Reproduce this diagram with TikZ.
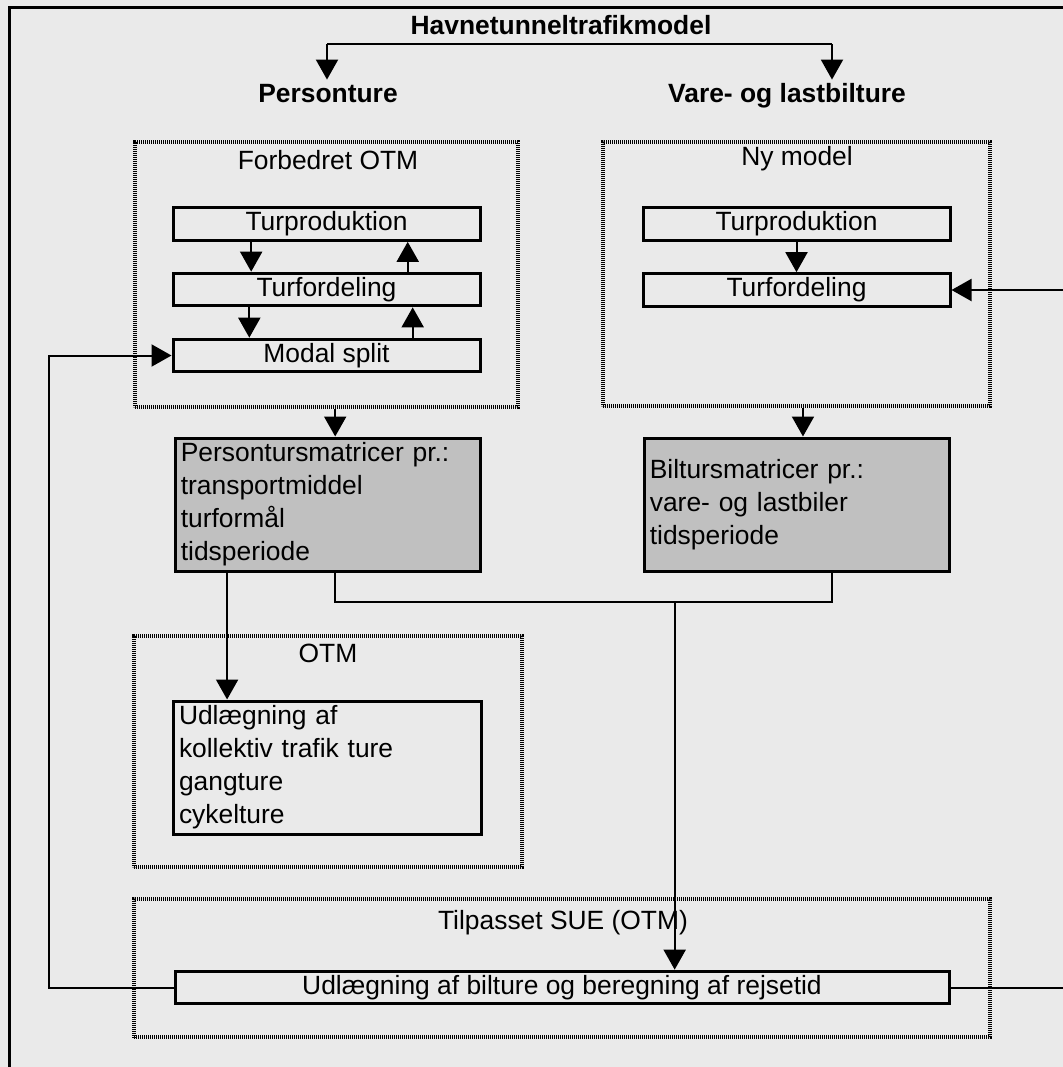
\documentclass[tikz,border=0pt]{standalone}
\usepackage{fontspec}
\setmainfont{Liberation Sans}
\usetikzlibrary{arrows.meta,calc}
\definecolor{bgcol}{RGB}{234,234,234}
\definecolor{boxgray}{RGB}{192,192,192}
\begin{document}
\begin{tikzpicture}[x=0.75pt,y=-0.75pt,
  every node/.style={font=\fontsize{19.8}{24.75}\selectfont, inner sep=0pt},
  boldlab/.style={font=\bfseries\fontsize{19.8}{24.75}\selectfont, inner sep=3pt},
  stepbox/.style={draw, line width=2.25pt, minimum width=230.25pt, minimum height=24.5pt},
  matbox/.style={draw, fill=boxgray, line width=2.25pt, minimum width=228.75pt, minimum height=99.75pt,
                 text width=220pt, align=left, inner xsep=4pt},
  groupbox/.style={draw, line width=2.4pt, dash pattern=on 0.9pt off 0.6pt},
  conn/.style={line width=1.5pt},
  arr/.style={conn, -{Triangle[length=15pt,width=16.5pt]}}]
\useasboundingbox (0,0) rectangle (1063,1067);
\clip (0,0) rectangle (1063,1067);
\fill[bgcol] (0,0) rectangle (1063,1067);
% outer frame
\draw[line width=2.25pt] (9,7) rectangle (1100,1100);

% titles
\node (title) at (561,25) [boldlab] {Havnetunneltrafikmodel};
\node (pers) at (328,102) [boldlab, anchor=base] {Personture};
\node (vare) at (787,102) [boldlab, anchor=base] {Vare- og lastbilture};
\coordinate (brL) at (327,44);
\coordinate (brR) at (832,44);

% group boxes
\node (fotm) at (326.5,274.5) [groupbox, minimum width=287.25pt, minimum height=198.75pt] {};
\node (nym)  at (796.5,274)   [groupbox, minimum width=290.25pt, minimum height=198pt] {};
\node (otm)  at (328,751.5)   [groupbox, minimum width=291pt, minimum height=173.25pt] {};
\node (tsue) at (562,968)     [groupbox, minimum width=642pt, minimum height=103.5pt] {};
\node (lfotm) at (328,160) {Forbedret OTM};
\node (lnym)  at (797,159) {Ny model};
\node (lotm)  at (328,653) {OTM};
\node (ltsue) at (563,923) {Tilpasset SUE (OTM)};

% step boxes
\node (tp1) at (326.5,224)   [stepbox] {Turproduktion};
\node (tf1) at (326.5,289.5) [stepbox] {Turfordeling};
\node (ms)  at (326.5,355.5) [stepbox] {Modal split};
\node (tp2) at (796.5,224)   [stepbox] {Turproduktion};
\node (tf2) at (796.5,290)   [stepbox] {Turfordeling};

% matrices
\node (pm) at (327.5,504.5) [matbox] {Persontursmatricer pr.:\\transportmiddel\\turformål\\tidsperiode};
\node (bm) at (796.5,504.5) [matbox] {Biltursmatricer pr.:\\vare- og lastbiler\\tidsperiode};

% OTM box
\node (ud) at (327,767.5) [draw, line width=2.25pt, minimum width=231pt, minimum height=99.75pt,
   text width=222pt, align=left, inner xsep=4.5pt] {Udlægning af\\kollektiv trafik ture\\gangture\\cykelture};

% assignment box
\node (rj) at (562,987.5) [stepbox, minimum width=580.5pt] {Udlægning af bilture og beregning af rejsetid};

% connectors
\draw[conn] (brL) -- (brR);
\draw[arr] (brL) -- (brL |- pers.north);
\draw[arr] (brR) -- (brR |- pers.north);

\draw[arr] ($(tp1.south west)!0.257!(tp1.south east)$) -- ($(tf1.north west)!0.257!(tf1.north east)$);
\draw[arr] ($(tf1.south west)!0.251!(tf1.south east)$) -- ($(ms.north west)!0.251!(ms.north east)$);
\draw[arr] ($(tf1.north west)!0.762!(tf1.north east)$) -- ($(tp1.south west)!0.762!(tp1.south east)$);
\draw[arr] ($(ms.north west)!0.778!(ms.north east)$) -- ($(tf1.south west)!0.778!(tf1.south east)$);
\draw[arr] ($(tp2.south west)!0.5!(tp2.south east)$) -- ($(tf2.north west)!0.5!(tf2.north east)$);

\coordinate (pmA) at ($(pm.north west)!0.525!(pm.north east)$);
\draw[arr] (fotm.south -| pmA) -- (pmA);
\coordinate (bmA) at ($(bm.north west)!0.521!(bm.north east)$);
\draw[arr] (nym.south -| bmA) -- (bmA);

\coordinate (pmB) at ($(pm.south west)!0.174!(pm.south east)$);
\draw[arr] (pmB) -- (pmB |- ud.north);

\coordinate (busY) at (0,602);
\coordinate (pmC) at ($(pm.south west)!0.525!(pm.south east)$);
\coordinate (bmC) at ($(bm.south west)!0.616!(bm.south east)$);
\draw[conn] (pmC) -- (pmC |- busY) -- (bmC |- busY) -- (bmC);
\coordinate (rjA) at ($(rj.north west)!0.645!(rj.north east)$);
\draw[arr] (rjA |- busY) -- (rjA);

\coordinate (fbL) at (49,0);
\coordinate (fbR) at (1090,0);
\draw[arr] (rj.west) -| (fbL |- ms.west) -- (ms.west);
\draw[arr] (rj.east) -| (fbR |- tf2.east) -- (tf2.east);
\end{tikzpicture}
\end{document}
